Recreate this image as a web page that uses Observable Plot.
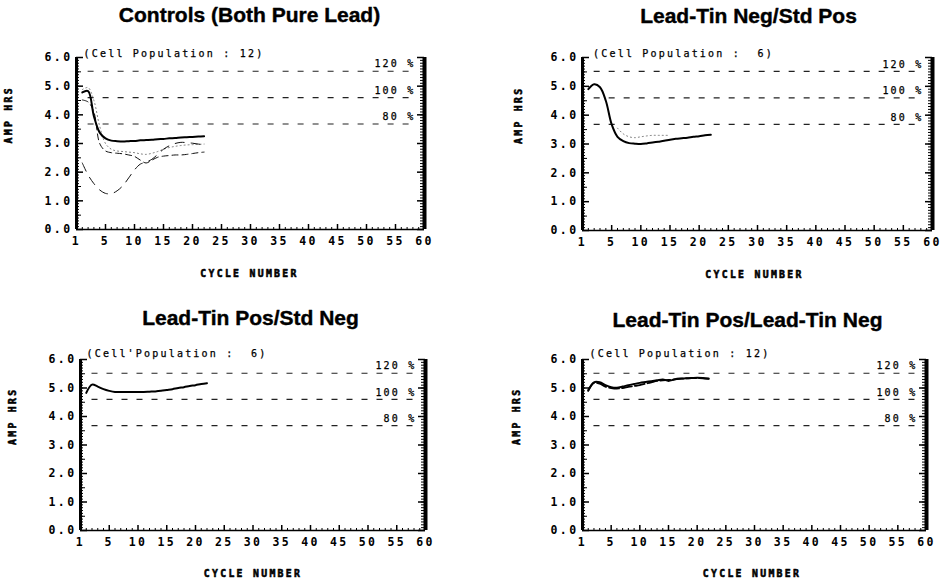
<!DOCTYPE html>
<html>
<head>
<meta charset="utf-8">
<script src="https://cdn.jsdelivr.net/npm/d3@7"></script>
<script src="https://cdn.jsdelivr.net/npm/@observablehq/plot@0.6"></script>
<style>
  html, body { margin: 0; padding: 0; background: #fff; }
  #wrap { position: relative; width: 942px; height: 584px; overflow: hidden; background: #fff; }
  .panel { position: absolute; width: 471px; height: 292px; }
  .panel svg { overflow: visible; }
  g[font-size="11.5"] { letter-spacing: 2.4px; }
  g[font-size="9.8"] { letter-spacing: 2.3px; }
  g[font-size="10"] { letter-spacing: 2.2px; }
</style>
</head>
<body>
<div id="wrap"></div>
<script>
// ---------- data ----------
const titles = [
  "Controls (Both Pure Lead)",
  "Lead-Tin Neg/Std Pos",
  "Lead-Tin Pos/Std Neg",
  "Lead-Tin Pos/Lead-Tin Neg"
];
const populations = [
  "(Cell Population : 12)",
  "(Cell Population :  6)",
  "(Cell'Population :  6)",
  "(Cell Population : 12)"
];
const xTickValues = [0, 5, 10, 15, 20, 25, 30, 35, 40, 45, 50, 55, 60];
const xTickLabels = ["1", "5", "10", "15", "20", "25", "30", "35", "40", "45", "50", "55", "60"];
const yTickValues = [0, 1, 2, 3, 4, 5, 6];
const yMinorValues = [0,0.1,0.2,0.3,0.4,0.5,0.6,0.7,0.8,0.9,1,1.1,1.2,1.3,1.4,1.5,1.6,1.7,1.8,1.9,2,2.1,2.2,2.3,2.4,2.5,2.6,2.7,2.8,2.9,3,3.1,3.2,3.3,3.4,3.5,3.6,3.7,3.8,3.9,4,4.1,4.2,4.3,4.4,4.5,4.6,4.7,4.8,4.9,5,5.1,5.2,5.3,5.4,5.5,5.6,5.7,5.8,5.9,6];
const yHalfValues = [0.5, 1.5, 2.5, 3.5, 4.5, 5.5];
const xMinorValues = [1,2,3,4,6,7,8,9,11,12,13,14,16,17,18,19,21,22,23,24,26,27,28,29,31,32,33,34,36,37,38,39,41,42,43,44,46,47,48,49,51,52,53,54,56,57,58,59];
const refValues = [5.52, 4.6, 3.68];
const refLabels = ["120 %", "100 %", "80 %"];
const refSpan = [2, 58];
const xLabel = "CYCLE NUMBER";
const yLabel = "AMP HRS";

const cycles = [1,2,3,4,5,6,7,8,9,10,11,12,13,14,15,16,17,18,19,20,21,22];

// Controls (Both Pure Lead)
const ctrlSolid  = [4.78,4.83,3.95,3.38,3.18,3.10,3.08,3.07,3.08,3.09,3.11,3.12,3.13,3.15,3.16,3.18,3.19,3.21,3.22,3.23,3.24,3.25];
const ctrlDashA  = [4.52,4.45,4.10,3.00,2.74,2.68,2.66,2.64,2.60,2.55,2.42,2.32,2.42,2.52,2.56,2.58,2.60,2.60,2.62,2.65,2.68,2.70];
const ctrlDashB  = [2.32,1.90,1.60,1.38,1.26,1.25,1.35,1.53,1.80,2.08,2.28,2.35,2.45,2.62,2.80,2.92,3.00,3.04,3.03,3.01,2.98,2.95];
const ctrlDotted = [4.88,4.95,4.50,3.60,3.00,2.80,2.74,2.72,2.70,2.68,2.64,2.62,2.66,2.72,2.80,2.86,2.90,2.93,2.95,2.96,2.97,2.98];

// Lead-Tin Neg/Std Pos
const negSolid  = [4.90,5.07,4.97,4.50,3.68,3.25,3.10,3.03,3.01,3.00,3.02,3.05,3.08,3.11,3.15,3.18,3.20,3.22,3.25,3.27,3.30,3.32];
const negDotted = [null,null,null,null,null,3.55,3.35,3.25,3.22,3.25,3.28,3.30,3.30,3.30,3.30,null,null,null,null,null,null,null];

// Lead-Tin Pos/Std Neg
const posSolid = [4.83,5.12,5.05,4.96,4.90,4.86,4.86,4.86,4.86,4.86,4.86,4.87,4.88,4.90,4.93,4.96,5.00,5.03,5.07,5.10,5.14,5.17];

// Lead-Tin Pos/Lead-Tin Neg
const bothSolid = [4.92,5.20,5.20,5.10,5.03,5.01,5.05,5.10,5.14,5.18,5.21,5.24,5.27,5.30,5.25,5.30,5.33,5.34,5.35,5.36,5.35,5.33];
const bothDash  = [4.90,5.18,5.15,5.05,5.00,4.98,5.00,5.04,5.07,5.10,5.15,5.20,5.25,5.27,5.28,5.30,5.32,5.34,5.35,5.35,5.34,5.32];

// ---------- styles & layout ----------
const MONO = "DejaVu Sans Mono";
const solidStyle  = {stroke: "#000", strokeWidth: 2};
const dashAStyle  = {stroke: "#111", strokeWidth: 1, strokeDasharray: "6,4"};
const dashBStyle  = {stroke: "#111", strokeWidth: 1, strokeDasharray: "9,7"};
const dottedStyle = {stroke: "#777", strokeWidth: 1, strokeDasharray: "1,3"};
const heavyDash   = {stroke: "#000", strokeWidth: 1.8, strokeDasharray: "10,3"};
const boldInk = {fill: "#000", stroke: "#000", strokeWidth: 0.55};

const panels = [
  {title: titles[0], pop: populations[0],
   series: [[ctrlDotted, dottedStyle], [ctrlDashB, dashBStyle], [ctrlDashA, dashAStyle], [ctrlSolid, solidStyle]],
   L: {left: 0, top: 0, ml: 76, mr: 47, mt: 57, mb: 63, tdx: -1, tdy: -42.5, pdx: 7, pdy: -4, cdx: -1, cdy: 44, adx: -67.5}},
  {title: titles[1], pop: populations[1],
   series: [[negDotted, dottedStyle], [negSolid, solidStyle]],
   L: {left: 471, top: 0, ml: 111, mr: 10, mt: 57, mb: 62, tdx: -9, tdy: -41.5, pdx: 10.5, pdy: -4, cdx: -3, cdy: 44, adx: -64}},
  {title: titles[2], pop: populations[2],
   series: [[posSolid, solidStyle]],
   L: {left: 0, top: 292, ml: 80, mr: 46, mt: 67, mb: 54, tdx: -2.5, tdy: -41, pdx: 6, pdy: -5.5, cdx: 0, cdy: 43.5, adx: -68}},
  {title: titles[3], pop: populations[3],
   series: [[bothDash, heavyDash], [bothSolid, solidStyle]],
   L: {left: 471, top: 292, ml: 111, mr: 16, mt: 67, mb: 54, tdx: -7, tdy: -39.5, pdx: 7, pdy: -5.5, cdx: -2.5, cdy: 43.5, adx: -66}}
];

const wrap = document.getElementById("wrap");
const W = 471, H = 292;

panels.forEach(p => {
  const L = p.L;
  const fw = W - L.ml - L.mr;
  const fh = H - L.mt - L.mb;
  const marks = [
    // reference capacity lines
    Plot.ruleY(refValues, {y: d => d, x1: refSpan[0], x2: refSpan[1], stroke: "#222", strokeWidth: 1.1, strokeDasharray: "6,9"}),
    Plot.text(refValues, {y: d => d, text: (d, i) => refLabels[i], frameAnchor: "right", textAnchor: "end",
      lineAnchor: "middle", dx: -9, dy: -7, fontFamily: MONO, fontSize: 10, fontWeight: "normal",
      fill: "#000", stroke: "#000", strokeWidth: 0.25}),
    // frame lines
    Plot.ruleX([0], {y1: 0, y2: 6, stroke: "#000", strokeWidth: 3}),
    Plot.ruleX([60], {y1: 0, y2: 6, stroke: "#000", strokeWidth: 4}),
    Plot.ruleY([0], {stroke: "#000", strokeWidth: 1.6}),
    // inward ticks, left
    Plot.tickY(yMinorValues, {y: d => d, insetRight: fw - 3, stroke: "#000", strokeWidth: 1}),
    Plot.tickY(yHalfValues, {y: d => d, insetRight: fw - 5, stroke: "#000", strokeWidth: 1}),
    Plot.tickY(yTickValues, {y: d => d, insetRight: fw - 7, stroke: "#000", strokeWidth: 1.5}),
    // inward ticks, right
    Plot.tickY(yMinorValues, {y: d => d, insetLeft: fw - 4, stroke: "#000", strokeWidth: 1}),
    Plot.tickY(yTickValues, {y: d => d, insetLeft: fw - 7, stroke: "#000", strokeWidth: 1.5}),
    // bottom ticks
    Plot.tickX(xMinorValues, {x: d => d, insetTop: fh - 2, stroke: "#000", strokeWidth: 1}),
    Plot.tickX(xTickValues, {x: d => d, insetTop: fh - 5, stroke: "#000", strokeWidth: 1.5}),
    // axes labels
    Plot.axisY({ticks: yTickValues, tickFormat: d3.format(".1f"), tickSize: 0, tickPadding: 4, anchor: "left",
      label: null, fontFamily: MONO, fontWeight: "bold", fontSize: 11.5, ...boldInk}),
    Plot.axisX({ticks: xTickValues, tickFormat: d => xTickLabels[xTickValues.indexOf(d)], tickSize: 0, tickPadding: 7,
      anchor: "bottom", label: null, fontFamily: MONO, fontWeight: "bold", fontSize: 11.5, ...boldInk}),
    // data
    ...p.series.map(([vals, st]) =>
      Plot.line(cycles, {x: d => d, y: (d, i) => vals[i], curve: "catmull-rom", ...st})),
    // texts
    Plot.text([p.title], {frameAnchor: "top", lineAnchor: "middle", dx: L.tdx, dy: L.tdy,
      fontFamily: "Liberation Sans", fontWeight: "bold", fontSize: 21, fill: "#000", stroke: "#000", strokeWidth: 0.4}),
    Plot.text([p.pop], {frameAnchor: "top-left", textAnchor: "start", lineAnchor: "middle", dx: L.pdx, dy: L.pdy,
      fontFamily: MONO, fontWeight: "normal", fontSize: 10, fill: "#000", stroke: "#000", strokeWidth: 0.25}),
    Plot.text([xLabel], {frameAnchor: "bottom", lineAnchor: "middle", dx: L.cdx, dy: L.cdy,
      fontFamily: MONO, fontWeight: "bold", fontSize: 9.8, ...boldInk}),
    Plot.text([yLabel], {frameAnchor: "left", rotate: -90, lineAnchor: "middle", dx: L.adx,
      fontFamily: MONO, fontWeight: "bold", fontSize: 9.8, ...boldInk})
  ];
  const chart = Plot.plot({
    width: W, height: H,
    marginLeft: L.ml, marginRight: L.mr, marginTop: L.mt, marginBottom: L.mb,
    x: {domain: [0, 60]},
    y: {domain: [0, 6]},
    style: {background: "transparent", overflow: "visible"},
    marks
  });
  const div = document.createElement("div");
  div.className = "panel";
  div.style.left = L.left + "px";
  div.style.top = L.top + "px";
  div.appendChild(chart);
  wrap.appendChild(div);
});
</script>
</body>
</html>
